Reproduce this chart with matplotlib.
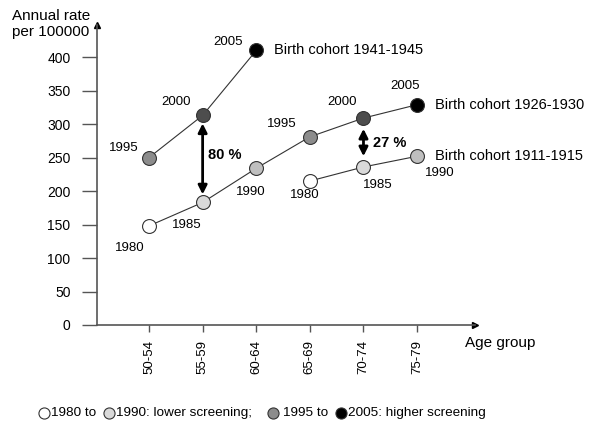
import numpy as np
import matplotlib.pyplot as plt
from matplotlib.lines import Line2D

plt.rcParams['font.family'] = ['Liberation Sans', 'DejaVu Sans']

grupos = ['50-54', '55-59', '60-64', '65-69', '70-74', '75-79']
yticks = [0, 50, 100, 150, 200, 250, 300, 350, 400]

# coortes: posicao (indice do grupo), taxa, ano
c1941_x = [0, 1, 2]
c1941_y = [250, 313, 410]
c1941_anos = ['1995', '2000', '2005']

c1926_x = [0, 1, 2, 3, 4, 5]
c1926_y = [148, 183, 234, 281, 309, 329]
c1926_anos = ['1980', '1985', '1990', '1995', '2000', '2005']

c1911_x = [3, 4, 5]
c1911_y = [215, 236, 252]
c1911_anos = ['1980', '1985', '1990']

cores = {'1980': 'white', '1985': '#d9d9d9', '1990': '#bfbfbf',
         '1995': '#8c8c8c', '2000': '#4d4d4d', '2005': 'black'}

# deslocamento dos rotulos em pixels
desl1941 = [(-25, 10), (-27, 13), (-28, 8)]
desl1926 = [(-19, -22), (-16, -23), (-5, -24), (-28, 13), (-21, 16), (-12, 19)]
desl1911 = [(-5, -14), (14, -18), (23, -17)]

fig = plt.figure(figsize=(6, 4.33), dpi=100)
ax = fig.add_axes([97/600, 1-325/433, (475-97)/600, 300/433])

eixo = '#555555'

def coorte(xs, ys, anos, desl, nome):
    ax.plot(xs, ys, '-', color='#333333', lw=0.8, zorder=2)
    for x, y, a, d in zip(xs, ys, anos, desl):
        ax.plot(x, y, 'o', ms=10, mfc=cores[a], mec='#333333', mew=0.8, zorder=3)
        ax.annotate(a, (x, y), xytext=d, textcoords='offset pixels',
                    ha='center', va='center', fontsize=9.5)
    ax.annotate(nome, (xs[-1], ys[-1]), xytext=(18, 0), textcoords='offset pixels',
                ha='left', va='center', fontsize=10.5)

coorte(c1941_x, c1941_y, c1941_anos, desl1941, 'Birth cohort 1941-1945')
coorte(c1926_x, c1926_y, c1926_anos, desl1926, 'Birth cohort 1926-1930')
coorte(c1911_x, c1911_y, c1911_anos, desl1911, 'Birth cohort 1911-1915')

# setas de diferenca
seta = dict(arrowstyle='<|-|>', color='black', lw=2, mutation_scale=13,
            shrinkA=0, shrinkB=0)
ax.annotate('', xy=(1, 301), xytext=(1, 195), arrowprops=seta)
ax.text(1.1, 254, '80 %', fontsize=10.5, fontweight='bold', ha='left', va='center')
ax.annotate('', xy=(4, 293), xytext=(4, 252), arrowprops=seta)
ax.text(4.18, 272, '27 %', fontsize=10.5, fontweight='bold', ha='left', va='center')

ax.set_xlim(-0.97, 6.08)
ax.set_ylim(0, 448)
ax.set_xticks(range(len(grupos)))
ax.set_xticklabels(grupos, rotation=90, fontsize=9.5)
ax.set_yticks(yticks)
ax.set_yticklabels([str(v) for v in yticks], fontsize=10)
ax.tick_params(axis='y', length=11, width=1, color=eixo, pad=8)
ax.tick_params(axis='x', length=5, width=1, color=eixo, pad=6)
for s in ['top', 'right']:
    ax.spines[s].set_visible(False)
for s in ['left', 'bottom']:
    ax.spines[s].set_color(eixo)
    ax.spines[s].set_linewidth(1.2)
ax.plot(1, 0, '>', color='black', ms=5, transform=ax.transAxes, clip_on=False)
ax.plot(0, 1, '^', color='black', ms=5, transform=ax.transAxes, clip_on=False)

fig.text(12/600, 1-24/433, 'Annual rate\nper 100000', fontsize=11, ha='left', va='center',
         linespacing=1.25)
fig.text(465/600, 1-343/433, 'Age group', fontsize=11, ha='left', va='center')

# legenda em texto
yl = 1 - 413/433
itens = [(44, 'white', '1980 to'), (109, '#d9d9d9', '1990: lower screening;'),
         (273, '#8c8c8c', '1995 to'), (341, 'black', '2005: higher screening')]
desl_txt = [7, 7, 10, 7]
for (px, cor, txt), dt in zip(itens, desl_txt):
    fig.add_artist(Line2D([px/600], [yl], marker='o', ms=8, mfc=cor, mec='#333333',
                          mew=0.8, transform=fig.transFigure))
    fig.text((px + dt)/600, yl, txt, fontsize=9.7, ha='left', va='center')

fig.savefig('out.png', dpi=100)
